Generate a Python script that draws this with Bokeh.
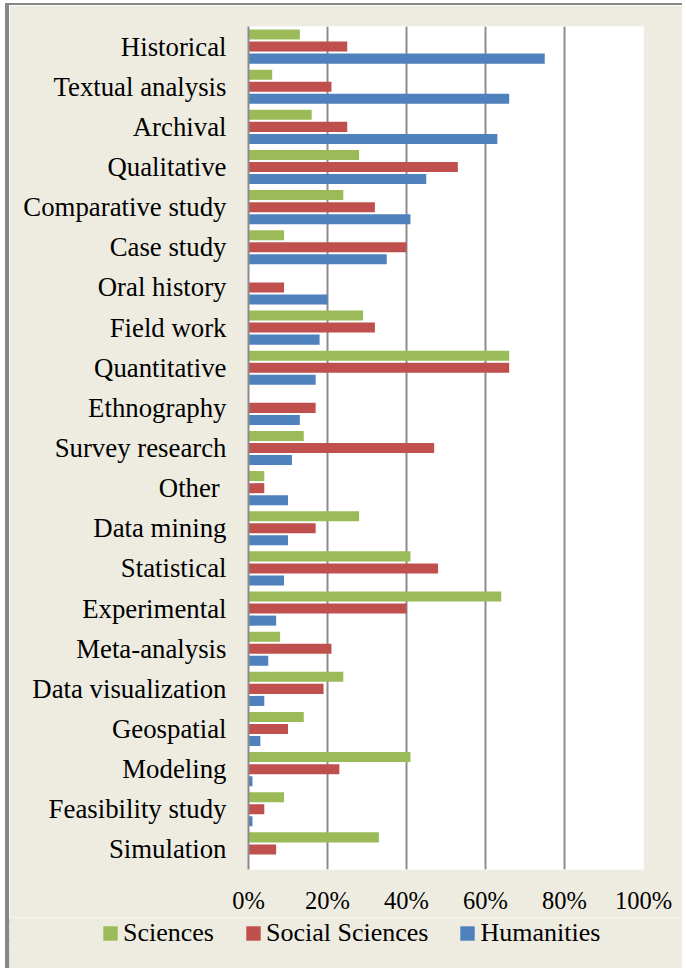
from bokeh.plotting import figure
from bokeh.models import (ColumnDataSource, FactorRange, Legend, LegendItem,
                          FixedTicker, PrintfTickFormatter, Range1d)
from bokeh.transform import dodge
from bokeh.embed import file_html
from bokeh.resources import INLINE

methods = ["Historical", "Textual analysis", "Archival", "Qualitative",
           "Comparative study", "Case study", "Oral history", "Field work",
           "Quantitative", "Ethnography", "Survey research", "Other ",
           "Data mining", "Statistical", "Experimental", "Meta-analysis",
           "Data visualization", "Geospatial", "Modeling",
           "Feasibility study", "Simulation"]
sciences = [13, 6, 16, 28, 24, 9, 0, 29, 66, 0, 14, 4, 28, 41, 64, 8, 24, 14, 41, 9, 33]
social_sciences = [25, 21, 25, 53, 32, 40, 9, 32, 66, 17, 47, 4, 17, 48, 40, 21, 19, 10, 23, 4, 7]
humanities = [75, 66, 63, 45, 41, 35, 20, 18, 17, 13, 11, 10, 10, 9, 7, 5, 4, 3, 1, 1, 0]
series_names = ["Sciences", "Social Sciences", "Humanities"]
series_colors = ["#9BBB59", "#C0504D", "#4F81BD"]
x_ticks = [0, 20, 40, 60, 80, 100]

FONT = "Liberation Serif"
BG = "#EEECE1"
GRID = "#8C8C8C"
BORDER = "#878787"

src = ColumnDataSource(dict(method=methods, sci=sciences, soc=social_sciences, hum=humanities))
cols = ["sci", "soc", "hum"]
offsets = [0.3, 0.0, -0.3]

# ---- main chart ----
p = figure(width=677, height=914, output_backend="svg", toolbar_location=None,
           y_range=FactorRange(factors=list(reversed(methods))),
           x_range=Range1d(0, 100),
           min_border_left=239, min_border_right=43, min_border_top=21, min_border_bottom=50)
p.styles = {"margin-left": "5px", "margin-top": "3px",
            "border-left": f"4px solid {BORDER}", "border-top": f"2px solid {BORDER}"}
p.background_fill_color = "white"
p.border_fill_color = BG
p.outline_line_color = None

for c, off, color in zip(cols, offsets, series_colors):
    p.hbar(y=dodge("method", off, range=p.y_range), right=c, left=0, height=0.25,
           source=src, fill_color=color, line_color=None)

p.xaxis.ticker = FixedTicker(ticks=x_ticks)
p.xaxis.formatter = PrintfTickFormatter(format="%d%%")
p.xaxis.axis_line_color = None
p.xaxis.major_tick_line_color = None
p.xaxis.minor_tick_line_color = None
p.xaxis.major_label_standoff = 11
p.xaxis.major_label_text_font = FONT
p.xaxis.major_label_text_font_size = "24.5px"
p.xaxis.major_label_text_color = "black"

p.yaxis.axis_line_color = GRID
p.yaxis.axis_line_width = 2
p.yaxis.major_tick_line_color = None
p.yaxis.major_tick_out = 0
p.yaxis.major_tick_in = 0
p.yaxis.major_label_standoff = 22
p.yaxis.major_label_text_font = FONT
p.yaxis.major_label_text_font_size = "26.8px"
p.yaxis.major_label_text_color = "black"

p.xgrid.ticker = FixedTicker(ticks=x_ticks)
p.xgrid.grid_line_color = GRID
p.xgrid.grid_line_width = 2
p.ygrid.grid_line_color = None

# ---- legend strip (separate root, no frame alignment) ----
lg = figure(width=677, height=51, output_backend="svg", toolbar_location=None,
            x_range=Range1d(1000, 1001), y_range=FactorRange(factors=methods),
            min_border=0, min_border_left=0, min_border_right=0,
            min_border_top=0, min_border_bottom=0)
lg.styles = {"margin-left": "5px", "border-left": f"4px solid {BORDER}"}
lg.xaxis.visible = False
lg.yaxis.visible = False
lg.grid.visible = False
lg.outline_line_color = None
lg.background_fill_color = BG
lg.border_fill_color = BG
leg_renderers = []
for c, color in zip(cols, series_colors):
    r = lg.hbar(y="method", right=c, left=0, height=0.25, source=src,
                fill_color=color, line_color=None)
    leg_renderers.append(r)

legend = Legend(items=[LegendItem(label=n, renderers=[r]) for n, r in zip(series_names, leg_renderers)],
                orientation="horizontal", location=(92, 20),
                glyph_width=18, glyph_height=18, label_standoff=4, spacing=30,
                padding=0, margin=0, border_line_color=None, background_fill_alpha=0)
legend.label_text_font = FONT
legend.label_text_font_size = "26px"
legend.label_text_font_style = "normal"
legend.label_text_color = "black"
lg.add_layout(legend)

open("out.html", "w").write(file_html([p, lg], INLINE))
